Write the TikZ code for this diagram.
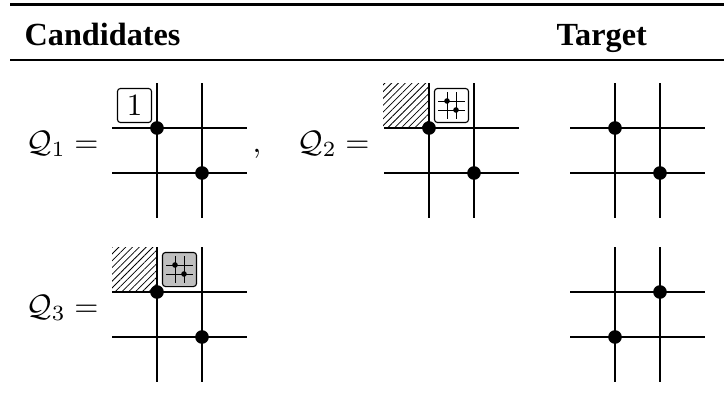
\documentclass[tikz,border=0pt]{standalone}
\usepackage[no-math]{fontspec}
\newfontfamily\hdrfont{Liberation Serif}
\usetikzlibrary{patterns.meta}
\begin{document}
\begin{tikzpicture}[x=0.3226pt,y=-0.3226pt,
  gline/.style={line width=0.36pt},
  mline/.style={line width=0.32pt},
  bigdot/.style={circle,fill=black,inner sep=0pt,minimum size=4.4pt},
  smalldot/.style={circle,fill=black,inner sep=0pt,minimum size=1.8pt},
  hatch/.style={pattern={Lines[angle=45,distance=1.55pt,line width=0.25pt]}},
  tag/.style={draw,rounded corners=1pt,line width=0.36pt,minimum size=11pt,inner sep=0pt,font=\normalsize},
  lbl/.style={inner sep=0pt,font=\normalsize},
  hdr/.style={inner sep=0pt,font=\fontsize{10.4}{12}\hdrfont\bfseries},
  pics/lattice/.style={code={\draw[gline] (-45,0) -- (90,0) (-45,45) -- (90,45) (0,-45) -- (0,90) (45,-45) -- (45,90);}},
  pics/minilattice/.style={code={\draw[mline] (-9,0) -- (18,0) (-9,9) -- (18,9) (0,-9) -- (0,18) (9,-9) -- (9,18);}}]
\useasboundingbox (0,0) rectangle (724,400);
% rules
\coordinate (tl) at (10,4.7); \coordinate (tr) at (724,4.7);
\coordinate (ml) at (10,60); \coordinate (mr) at (724,60);
\draw[line width=0.87pt] (tl) -- (tr);
\draw[line width=0.65pt] (ml) -- (mr);
% header
\node[hdr,anchor=base west] (hc) at (24,45) {Candidates};
\node[hdr,anchor=base west] (ht) at (556,45) {Target};
% hatched regions
\fill[hatch] (383,83) rectangle (429,128);
\fill[hatch] (112,247) rectangle (157,292);
% grids
\pic at (157,128) {lattice};
\pic at (429,128) {lattice};
\pic at (157,292) {lattice};
\pic at (615,128) {lattice};
\pic at (615,292) {lattice};
% tags
\node[tag,fill=white] (t1) at (134.5,105.5) {$1$};
\node[tag,fill=white] (t2) at (451.5,105.5) {};
\node[tag,fill=black!25] (t3) at (179.5,269.5) {};
\pic at (447,101) {minilattice};
\pic at (175,265) {minilattice};
\node[smalldot] (m2a) at (447,101) {};
\node[smalldot] (m2b) at (456,110) {};
\node[smalldot] (m3a) at (175,265) {};
\node[smalldot] (m3b) at (184,274) {};
% dots
\node[bigdot] (d1a) at (157,128) {};
\node[bigdot] (d1b) at (202,173) {};
\node[bigdot] (d2a) at (429,128) {};
\node[bigdot] (d2b) at (474,173) {};
\node[bigdot] (d3a) at (157,292) {};
\node[bigdot] (d3b) at (202,337) {};
\node[bigdot] (e1a) at (615,128) {};
\node[bigdot] (e1b) at (660,173) {};
\node[bigdot] (e2a) at (660,292) {};
\node[bigdot] (e2b) at (615,337) {};
% labels
\node[lbl,anchor=base east] (q1) at (99,152) {$\mathcal{Q}_1 =$};
\node[lbl,anchor=base west] (c1) at (252,152) {,};
\node[lbl,anchor=base east] (q2) at (370,152) {$\mathcal{Q}_2 =$};
\node[lbl,anchor=base east] (q3) at (99,316) {$\mathcal{Q}_3 =$};
\end{tikzpicture}
\end{document}
